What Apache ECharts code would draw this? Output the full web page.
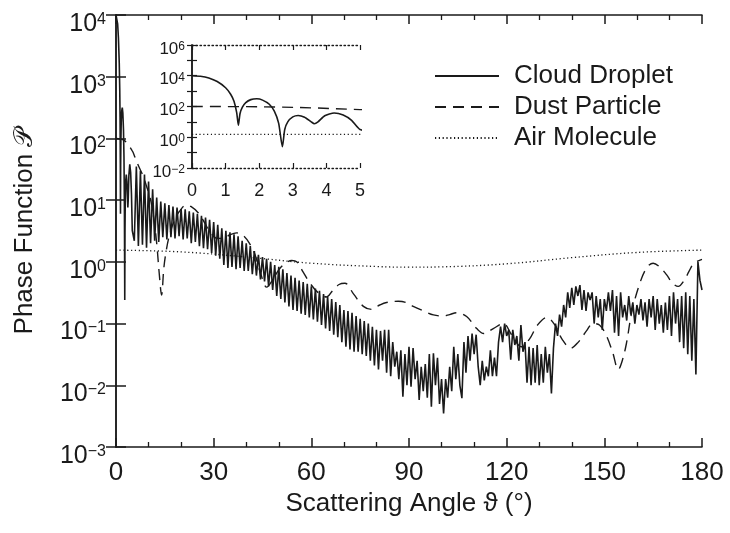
<!DOCTYPE html>
<html>
<head>
<meta charset="utf-8">
<script src="https://cdn.jsdelivr.net/npm/echarts@6/dist/echarts.min.js"></script>
<style>
  html, body { margin: 0; background: #fff; }
  #chart { width: 730px; height: 533px; }
</style>
</head>
<body>
<div id="chart"></div>
<script>
// forward lobe of the droplet curve (angle in degrees)
var cloudNearDeg = [0, 0.25, 0.5, 0.75, 1, 1.15, 1.25, 1.33, 1.38, 1.43, 1.5, 1.6, 1.75, 1.93, 2.1, 2.3,
  2.45, 2.58, 2.69, 2.76, 2.85, 3, 3.16, 3.35, 3.55, 3.64, 3.75, 3.95, 4.23, 4.5, 4.75, 5];
var cloudNearVal = [10000, 9300, 7200, 4200, 1660, 630, 220, 40, 6, 35, 90, 180, 280, 316, 260, 140,
  50, 8, 0.24, 3.2, 10, 21, 26, 20, 10, 7.6, 10, 25, 38, 28, 12.6, 3.2];

// rest of the droplet curve, read every 0.625 deg from 5.625 to 180
var cloudFarStart = 5.625;
var cloudFarStep = 0.625;
var cloudFarVal = [
  2.2, 35, 1.8, 30, 1.9, 26, 1.7, 20, 2.0, 15, 2.2, 11, 2.1, 9.5, 2.5, 8.9, 2.3, 8.3, 2.5, 7.9,
  2.4, 7.6, 2.6, 7.2, 2.3, 7.1, 2.4, 6.6, 2.0, 6.3, 2.1, 6.0, 1.8, 5.6, 1.66, 5.2, 1.6, 4.8, 1.4, 4.4,
  1.26, 4.0, 1.12, 3.5, 0.89, 3.2, 0.8, 3.0, 0.83, 2.8, 0.76, 2.6, 0.8, 2.2, 0.71, 2.0, 0.71, 1.8, 0.63, 1.5,
  0.6, 1.3, 0.52, 1.2, 0.48, 1.12, 0.4, 1.0, 0.35, 0.89, 0.28, 0.83, 0.25, 0.76, 0.22, 0.66, 0.19, 0.6, 0.166, 0.55,
  0.16, 0.5, 0.145, 0.47, 0.138, 0.44, 0.126, 0.4, 0.117, 0.37, 0.107, 0.34, 0.095, 0.3, 0.083, 0.275, 0.076, 0.25, 0.066, 0.224,
  0.06, 0.2, 0.05, 0.166, 0.042, 0.16, 0.038, 0.15, 0.035, 0.132, 0.035, 0.12, 0.032, 0.11, 0.03, 0.1, 0.025, 0.089, 0.021, 0.079,
  0.018, 0.076, 0.025, 0.079, 0.016, 0.079, 0.014, 0.05, 0.02, 0.035, 0.0126, 0.037, 0.0065, 0.032, 0.01, 0.042, 0.0095, 0.04, 0.0126, 0.025,
  0.0058, 0.02, 0.008, 0.022, 0.0063, 0.032, 0.0045, 0.033, 0.01, 0.028, 0.005, 0.0126, 0.0035, 0.0126, 0.0063, 0.02, 0.008, 0.042, 0.0126, 0.032,
  0.01, 0.0062, 0.05, 0.016, 0.063, 0.025, 0.069, 0.032, 0.066, 0.02, 0.01, 0.025, 0.012, 0.02, 0.014, 0.037, 0.014, 0.028, 0.014, 0.05,
  0.089, 0.05, 0.1, 0.063, 0.079, 0.026, 0.079, 0.045, 0.063, 0.025, 0.095, 0.035, 0.05, 0.011, 0.042, 0.01, 0.04, 0.011, 0.045, 0.01,
  0.032, 0.011, 0.042, 0.016, 0.032, 0.0074, 0.04, 0.1, 0.063, 0.14, 0.089, 0.2, 0.126, 0.32, 0.18, 0.38, 0.2, 0.4, 0.28, 0.42,
  0.166, 0.35, 0.16, 0.32, 0.24, 0.32, 0.1, 0.28, 0.126, 0.25, 0.079, 0.25, 0.16, 0.32, 0.16, 0.35, 0.071, 0.28, 0.063, 0.32,
  0.126, 0.2, 0.112, 0.28, 0.14, 0.22, 0.1, 0.2, 0.14, 0.25, 0.112, 0.22, 0.089, 0.25, 0.126, 0.28, 0.079, 0.25, 0.1, 0.2,
  0.071, 0.22, 0.079, 0.28, 0.063, 0.32, 0.1, 0.25, 0.05, 0.28, 0.04, 0.32, 0.032, 0.28, 0.025, 0.25, 0.015, 1.0, 0.5, 0.35
];

var dustDeg = [0, 2.5, 5, 5.8, 7, 8.4, 9.5, 10.4, 11.5, 12.5, 13.3, 14, 14.7, 15.5, 16.5, 18, 19.5, 21.5, 23, 25.3,
  27, 29, 31, 33, 35, 37, 39, 41, 42.7, 44.5, 46.3, 48, 50, 52, 54, 55.5, 57.5, 59.6, 62, 64.7,
  66.5, 68.5, 70.3, 73, 76, 78.5, 81, 83.1, 86.7, 89, 91.3, 94.5, 97.5, 100.5, 102.5, 104.6, 107.7, 110.8, 113, 115.9,
  119, 121.5, 124.5, 127, 129.5, 132.3, 134.8, 137, 139.7, 142, 144.5, 146.5, 148.5, 150.5, 152.5, 154.3, 155.5, 156.8, 158.5, 160.9,
  163, 165, 167, 169.1, 171, 172.7, 174.5, 176, 177.5, 180];
var dustVal = [100, 93, 63, 50, 35, 24, 16, 11.5, 5.6, 2, 0.63, 0.29, 0.8, 1.6, 2.8, 4.8, 6.6, 8.3, 7.9, 6.2,
  4.5, 3.0, 2.4, 2.4, 2.75, 2.95, 2.7, 2.0, 1.3, 0.63, 0.39, 0.5, 0.74, 0.95, 1.05, 1.0, 0.68, 0.45, 0.32, 0.27,
  0.34, 0.43, 0.45, 0.3, 0.19, 0.17, 0.2, 0.22, 0.23, 0.22, 0.19, 0.16, 0.138, 0.132, 0.14, 0.15, 0.13, 0.083, 0.069, 0.083,
  0.1, 0.066, 0.042, 0.056, 0.095, 0.126, 0.095, 0.056, 0.04, 0.05, 0.076, 0.1, 0.095, 0.066, 0.035, 0.018, 0.025, 0.048, 0.16, 0.45,
  0.8, 0.95, 0.83, 0.62, 0.45, 0.4, 0.5, 0.7, 0.95, 1.1];

var airDeg = [0, 20, 40, 60, 80, 90, 100, 120, 140, 160, 180];
var airVal = [1.55, 1.45, 1.2, 0.95, 0.84, 0.82, 0.83, 0.93, 1.17, 1.42, 1.55];

var FONT = 'Liberation Sans';
var INK = '#1a1a1a';

function pairs(xs, ys) {
  return ys.map(function (v, i) { return [xs[i], v]; });
}

var cloudData = pairs(cloudNearDeg, cloudNearVal).concat(
  cloudFarVal.map(function (v, i) { return [cloudFarStart + i * cloudFarStep, v]; })
);
var dustData = pairs(dustDeg, dustVal);
var airData = pairs(airDeg, airVal);

function supLabel(v) {
  var e = Math.round(Math.log10(v));
  return '{b|10}{s|' + (e < 0 ? '\u2212' + (-e) : e) + '}';
}
function supLabelEven(v) {
  var e = Math.round(Math.log10(v));
  if (e % 2 !== 0) return '';
  return supLabel(v);
}

var lineCol = { color: INK, width: 1.5 };

function xAxisMain(pos, labels) {
  return {
    type: 'value', gridIndex: 0, position: pos, min: 0, max: 180, interval: 30,
    axisLine: { lineStyle: lineCol },
    axisTick: { inside: true, length: 9, lineStyle: lineCol },
    minorTick: { show: true, splitNumber: 3, length: 5, lineStyle: { color: INK, width: 1.3 } },
    splitLine: { show: false },
    axisLabel: { show: labels, fontFamily: FONT, fontSize: 26, color: INK, margin: 13 }
  };
}
function yAxisMain(pos, labels) {
  return {
    type: 'log', gridIndex: 0, position: pos, min: 1e-3, max: 1e4, logBase: 10, splitNumber: 7,
    axisLine: { lineStyle: lineCol },
    axisTick: { inside: true, length: 10, lineStyle: lineCol },
    splitLine: { show: false },
    axisLabel: {
      show: labels, margin: 10, color: INK, formatter: supLabel, padding: [18, 0, 0, 0],
      rich: {
        b: { fontFamily: FONT, fontSize: 25, lineHeight: 25, verticalAlign: 'bottom', color: INK },
        s: { fontFamily: FONT, fontSize: 16, lineHeight: 14, verticalAlign: 'top', color: INK }
      }
    }
  };
}
function xAxisInset(pos, labels) {
  return {
    type: 'value', gridIndex: 1, position: pos, min: 0, max: 5, interval: 1,
    axisLine: { lineStyle: { color: INK, width: 1.3, type: [1.5, 2.5] } },
    axisTick: { inside: true, length: 5, lineStyle: { color: INK, width: 1.2 } },
    splitLine: { show: false },
    axisLabel: { show: labels, fontFamily: FONT, fontSize: 18, color: INK, margin: 14 }
  };
}
function yAxisInset(pos, labels) {
  return {
    type: 'log', gridIndex: 1, position: pos, min: 1e-2, max: 1e6, logBase: 10, splitNumber: 8,
    axisLine: { lineStyle: { color: INK, width: 1.5 } },
    axisTick: { inside: true, length: 5, lineStyle: { color: INK, width: 1.2 } },
    splitLine: { show: false },
    axisLabel: {
      show: labels, margin: 7, color: INK, formatter: supLabelEven, padding: [8, 0, 0, 0],
      rich: {
        b: { fontFamily: FONT, fontSize: 17, lineHeight: 17, verticalAlign: 'bottom', color: INK },
        s: { fontFamily: FONT, fontSize: 12, lineHeight: 10, verticalAlign: 'top', color: INK }
      }
    }
  };
}

var chart = echarts.init(document.getElementById('chart'), null, { renderer: 'canvas' });

var styles = {
  'Cloud Droplet': { color: INK, width: 1.6, type: 'solid' },
  'Dust Particle': { color: INK, width: 1.4, type: [11, 7] },
  'Air Molecule': { color: INK, width: 1.3, type: [1.2, 2.6] }
};

function series(name, data, gi, smooth) {
  return {
    name: name, type: 'line', data: data, xAxisIndex: gi * 2, yAxisIndex: gi * 2,
    symbol: 'none', smooth: smooth, clip: true, animation: false,
    lineStyle: styles[name], itemStyle: { color: INK }
  };
}

chart.setOption({
  animation: false,
  backgroundColor: '#fff',
  grid: [
    { left: 116, top: 15, width: 586, height: 432 },
    { left: 192, top: 45, width: 168, height: 123 }
  ],
  xAxis: [
    Object.assign(xAxisMain('bottom', true), {
      name: 'Scattering Angle \u03D1 (\u00B0)', nameLocation: 'middle', nameGap: 44,
      nameTextStyle: { fontFamily: FONT, fontSize: 26, color: INK }
    }),
    xAxisMain('top', false),
    xAxisInset('bottom', true),
    xAxisInset('top', false)
  ],
  yAxis: [
    Object.assign(yAxisMain('left', true), {
      name: 'Phase Function \uD835\uDCAB', nameLocation: 'middle', nameGap: 78, nameRotate: 90,
      nameTextStyle: { fontFamily: FONT, fontSize: 26, color: INK }
    }),
    yAxisMain('right', false),
    yAxisInset('left', true),
    yAxisInset('right', false)
  ],
  legend: {
    orient: 'vertical', left: 429, top: 58, itemWidth: 64, itemHeight: 14, itemGap: 5,
    data: ['Cloud Droplet', 'Dust Particle', 'Air Molecule'],
    itemStyle: { opacity: 0 },
    textStyle: { fontFamily: FONT, fontSize: 26, lineHeight: 26, color: INK, padding: [0, 0, 0, 10] },
    selectedMode: false
  },
  series: [
    series('Air Molecule', airData, 0, 0.4),
    series('Dust Particle', dustData, 0, 0.35),
    series('Cloud Droplet', cloudData, 0, false),
    series('Air Molecule', airData, 1, 0.4),
    series('Dust Particle', dustData, 1, 0.35),
    series('Cloud Droplet', cloudData, 1, 0.2)
  ]
});
</script>
</body>
</html>
